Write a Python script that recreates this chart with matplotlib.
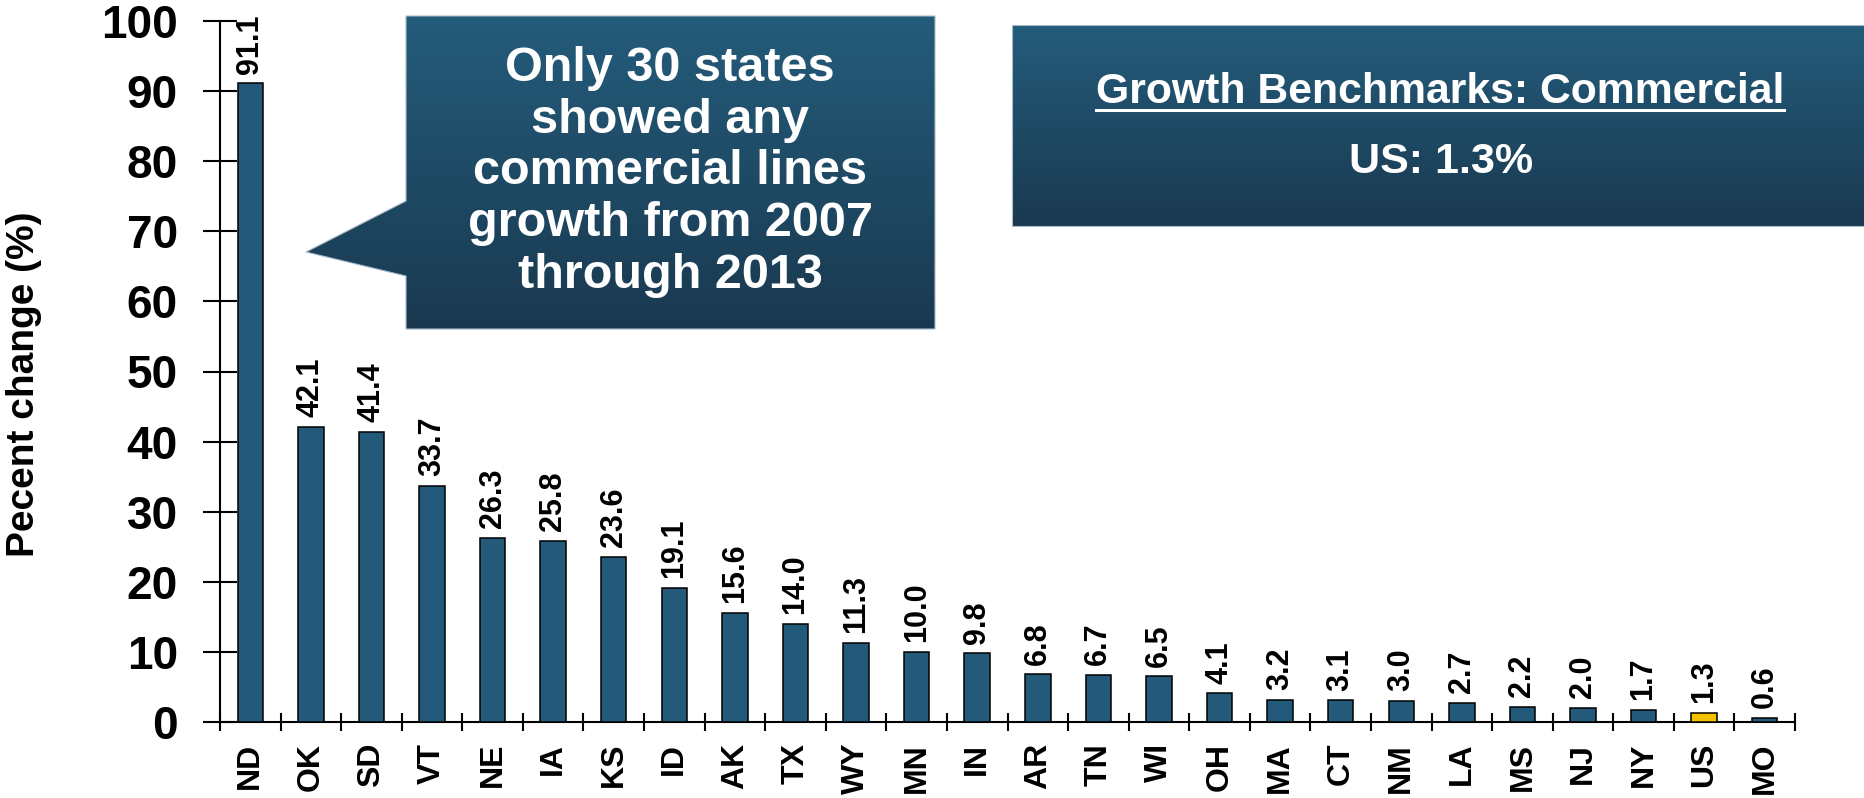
"""
Commercial lines premium growth by state, 2007-2013, with a callout
and a US benchmark panel. Writes out.png.
"""
import matplotlib

matplotlib.use("Agg")
import matplotlib.pyplot as plt  # noqa: E402
import numpy as np  # noqa: E402
from matplotlib.colors import LinearSegmentedColormap  # noqa: E402
from matplotlib.lines import Line2D  # noqa: E402
from matplotlib.patches import Polygon  # noqa: E402

states = ["ND", "OK", "SD", "VT", "NE", "IA", "KS", "ID", "AK", "TX", "WY", "MN", "IN",
          "AR", "TN", "WI", "OH", "MA", "CT", "NM", "LA", "MS", "NJ", "NY", "US", "MO"]
growth = [91.1, 42.1, 41.4, 33.7, 26.3, 25.8, 23.6, 19.1, 15.6, 14.0, 11.3, 10.0, 9.8,
          6.8, 6.7, 6.5, 4.1, 3.2, 3.1, 3.0, 2.7, 2.2, 2.0, 1.7, 1.3, 0.6]
y_ticks = list(range(0, 101, 10))

callout_text = "Only 30 states\nshowed any\ncommercial lines\ngrowth from 2007\nthrough 2013"
benchmark_title = "Growth Benchmarks: Commercial"
benchmark_value = "US: 1.3%"

BAR = "#245a79"
HIGHLIGHT = "#f2c200"
GRAD_TOP = "#245c7b"
GRAD_BOTTOM = "#1a3950"

W, H = 1864, 798

plt.rcParams["font.family"] = ["Liberation Sans", "DejaVu Sans"]
plt.rcParams["font.weight"] = "bold"


def main():
    fig = plt.figure(figsize=(W / 100, H / 100), dpi=100)
    ax = fig.add_axes([220 / W, 1 - 722 / H, (1795 - 220) / W, (722 - 21) / H])

    x = np.arange(len(states))
    colors = [HIGHLIGHT if s == "US" else BAR for s in states]
    ax.bar(x, growth, width=0.42, color=colors, edgecolor="black", linewidth=1.1, zorder=3)
    for xi, v in zip(x, growth):
        ax.annotate(f"{v:.1f}", (xi, v), xytext=(0, 7), textcoords="offset points",
                    rotation=90, ha="center", va="bottom", fontsize=22, fontweight="bold")

    ax.set_xlim(-0.5, len(states) - 0.5)
    ax.set_ylim(0, 100)
    ax.set_xticks(x, states, rotation=90, fontsize=23)
    ax.set_xticks(np.arange(len(states) + 1) - 0.5, minor=True)
    ax.tick_params(axis="x", which="major", length=0, pad=15)
    ax.tick_params(axis="x", which="minor", direction="inout", length=12.5, width=1.5)
    ax.set_yticks(y_ticks)
    ax.tick_params(axis="y", direction="inout", length=24.5, width=1.5, pad=18, labelsize=33)
    for side in ("top", "right"):
        ax.spines[side].set_visible(False)
    for side in ("left", "bottom"):
        ax.spines[side].set_linewidth(1.5)
    ax.set_ylabel("Pecent change (%)", fontsize=28, fontweight="bold")
    ax.yaxis.set_label_coords(-0.113, 0.482)

    # overlay in pixel coordinates for the two shaded panels
    over = fig.add_axes([0, 0, 1, 1], zorder=5)
    over.axis("off")
    cmap = LinearSegmentedColormap.from_list("panel", [GRAD_TOP, GRAD_BOTTOM])
    grad = np.linspace(0, 1, 256).reshape(-1, 1)

    def gradient_panel(verts):
        xs, ys = zip(*verts)
        patch = Polygon(verts, closed=True, facecolor="none", edgecolor="#a9bccb", linewidth=0.8)
        over.add_patch(patch)
        img = over.imshow(grad, cmap=cmap, aspect="auto", origin="upper",
                          extent=(min(xs), max(xs), max(ys), min(ys)))
        img.set_clip_path(patch)

    gradient_panel([(406, 16), (935, 16), (935, 329), (406, 329),
                    (406, 276), (306, 252), (406, 201)])
    gradient_panel([(1012, 25), (1866, 25), (1866, 226), (1012, 226)])
    over.set_xlim(0, W)
    over.set_ylim(H, 0)

    over.text(670, 172, callout_text, color="white", fontsize=35, ha="center", va="center",
              linespacing=1.19)
    title = over.text(1440, 103, benchmark_title, color="white", fontsize=30.8,
                      ha="center", va="baseline")
    over.text(1441, 173, benchmark_value, color="white", fontsize=31,
              ha="center", va="baseline")

    fig.canvas.draw()
    bb = title.get_window_extent().transformed(over.transData.inverted())
    over.add_line(Line2D([bb.x0, bb.x1], [110, 110], color="white", linewidth=2.2))

    fig.savefig("out.png", dpi=100)
    plt.close(fig)


if __name__ == "__main__":
    main()
